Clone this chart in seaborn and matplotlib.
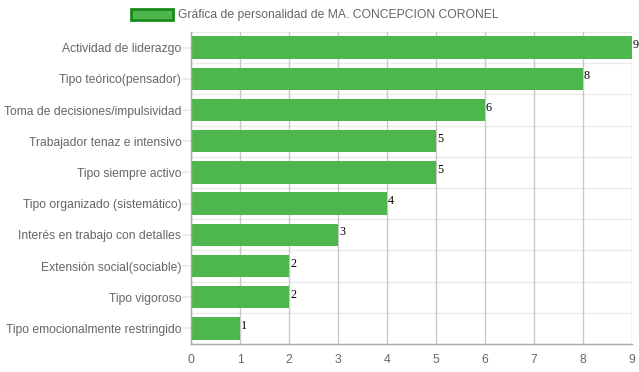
import matplotlib
matplotlib.use("Agg")
import matplotlib.pyplot as plt
import seaborn as sns
import pandas as pd
from matplotlib.patches import Patch

categories = [
    "Actividad de liderazgo",
    "Tipo teórico(pensador)",
    "Toma de decisiones/impulsividad",
    "Trabajador tenaz e intensivo",
    "Tipo siempre activo",
    "Tipo organizado (sistemático)",
    "Interés en trabajo con detalles",
    "Extensión social(sociable)",
    "Tipo vigoroso",
    "Tipo emocionalmente restringido",
]
values = [9, 8, 6, 5, 5, 4, 3, 2, 2, 1]
x_ticks = [0, 1, 2, 3, 4, 5, 6, 7, 8, 9]
series_label = "Gráfica de personalidad de MA. CONCEPCION CORONEL"

sns.set_theme(style="white")
plt.rcParams["font.family"] = ["Liberation Sans", "DejaVu Sans"]

W, H = 639, 372
fig = plt.figure(figsize=(W / 100, H / 100), dpi=100)
ax = fig.add_axes([191 / W, 1 - 344 / H, (632 - 191) / W, (344 - 32) / H])

df = pd.DataFrame({"cat": categories, "val": values})
bar_color = "#4DB64D"
sns.barplot(data=df, x="val", y="cat", orient="h", color=bar_color,
            saturation=1, width=0.72, ax=ax, edgecolor="none", linewidth=0)

ax.set_xlim(0, 9)
ax.set_ylim(len(categories) - 0.5, -0.5)
ax.set_xticks(x_ticks)
ax.set_xticklabels([str(t) for t in x_ticks])
ax.set_xlabel("")
ax.set_ylabel("")

# gridlines
for t in x_ticks:
    ax.axvline(t, color="#c8c8c8", lw=1, zorder=0.5)
for b in range(len(categories) + 1):
    ax.axhline(b - 0.5, color="#ebebeb", lw=1, zorder=0.4)

for s in ["top", "right"]:
    ax.spines[s].set_visible(False)
ax.spines["left"].set_color("#a8a8a8")
ax.spines["bottom"].set_color("#a8a8a8")
ax.spines["left"].set_linewidth(1)
ax.spines["bottom"].set_linewidth(1)

ax.tick_params(axis="y", length=6.5, color="#ebebeb", labelsize=8.7,
               labelcolor="#666666", pad=0.5, left=True)
ax.tick_params(axis="x", length=0, labelsize=8.7, labelcolor="#666666", pad=7)

# value labels
for i, v in enumerate(values):
    ax.text(v + 0.02, i - 0.08, str(v), ha="left", va="center",
            fontsize=8.7, color="black", family=["Liberation Serif", "DejaVu Serif"],
            clip_on=False)

handle = Patch(facecolor=bar_color, edgecolor="#1a8a1a", linewidth=2)
fig.legend([handle], [series_label], loc="center", bbox_to_anchor=(315 / W, 1 - 15 / H),
           frameon=False, handlelength=3.4, handleheight=1.1, handletextpad=0.45,
           fontsize=8.7, labelcolor="#666666")

fig.savefig("out.png", dpi=100)
